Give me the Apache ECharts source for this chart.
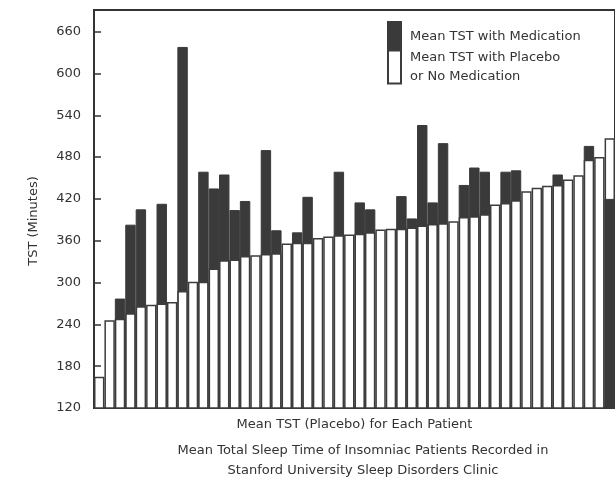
<!DOCTYPE html>
<html>
<head>
<meta charset="utf-8">
<script src="https://cdn.jsdelivr.net/npm/echarts@6/dist/echarts.min.js"></script>
<style>
html,body{margin:0;padding:0;background:#fff;}
#chart{width:615px;height:481px;}
</style>
</head>
<body>
<div id="chart"></div>
<script>
// Patients, sorted by placebo TST
var patients = [];
for (var i = 1; i <= 50; i++) patients.push('P' + i);

// Mean TST with placebo / no medication (minutes)
var placeboTST = [165, 246, 248, 256, 266, 268, 270, 272, 288, 301,
                  301, 320, 332, 333, 338, 339, 341, 342, 356, 357,
                  357, 364, 366, 368, 369, 370, 372, 376, 377, 377,
                  379, 382, 384, 385, 388, 394, 395, 398, 412, 414,
                  418, 431, 436, 439, 440, 448, 454, 476, 480, 507];

// Mean TST with medication (minutes); null where not shown
var medicationTST = [null, null, 277, 383, 405, null, 413, null, 638, null,
                     459, 435, 455, 404, 417, null, 490, 375, null, 372,
                     423, null, null, 459, null, 415, 405, null, null, 424,
                     392, 526, 415, 500, null, 440, 465, 459, null, 459,
                     461, null, null, null, 455, null, null, 496, null, 420];

var yTicks = [120, 180, 240, 300, 360, 420, 480, 540, 600, 660];

var medName = 'Mean TST with Medication';
var plaName = 'Mean TST with Placebo\nor No Medication';

// medication values lower than placebo are drawn in front
var medLow = medicationTST.map(function (m, i) {
  return (m !== null && m < placeboTST[i]) ? m : null;
});

var FONT = 'DejaVu Sans';
var TXT = '#333';

var chart = echarts.init(document.getElementById('chart'), null, {renderer: 'canvas'});
chart.setOption({
  backgroundColor: '#ffffff',
  animation: false,
  title: {
    text: 'Mean Total Sleep Time of Insomniac Patients Recorded in\nStanford University Sleep Disorders Clinic',
    left: 358,
    top: 436,
    textAlign: 'center',
    textStyle: {fontFamily: FONT, fontSize: 13, fontWeight: 'normal', color: TXT, lineHeight: 20}
  },
  legend: [
    {
      orient: 'vertical',
      left: 387,
      top: 21,
      padding: 0,
      itemGap: 0,
      itemWidth: 13,
      itemHeight: 29,
      icon: 'rect',
      data: [medName],
      textStyle: {fontFamily: FONT, fontSize: 13, color: TXT, padding: [3, 0, 0, 4]},
      selectedMode: false
    },
    {
      orient: 'vertical',
      left: 387,
      top: 47,
      padding: 0,
      itemGap: 0,
      itemWidth: 13,
      itemHeight: 33,
      icon: 'rect',
      data: [plaName],
      textStyle: {fontFamily: FONT, fontSize: 13, color: TXT, lineHeight: 19, padding: [2, 0, 0, 4]},
      selectedMode: false
    }
  ],
  grid: {
    left: 94, top: 10, width: 523, height: 398,
    show: true, borderColor: '#333', borderWidth: 2, backgroundColor: 'transparent'
  },
  xAxis: {
    type: 'category',
    data: patients,
    name: 'Mean TST (Placebo) for Each Patient',
    nameLocation: 'middle',
    nameGap: 10,
    nameTextStyle: {fontFamily: FONT, fontSize: 13, color: TXT},
    axisLine: {show: true, lineStyle: {color: '#333', width: 2}},
    axisTick: {show: false},
    axisLabel: {show: false},
    splitLine: {show: false}
  },
  yAxis: {
    type: 'value',
    min: 120,
    max: 691,
    interval: 60,
    name: 'TST (Minutes)',
    nameLocation: 'middle',
    nameGap: 54,
    nameTextStyle: {fontFamily: FONT, fontSize: 13, color: TXT, padding: [0, 24, 0, 0]},
    axisLine: {show: true, lineStyle: {color: '#333', width: 2}},
    axisTick: {show: true, inside: true, length: 7, lineStyle: {color: '#333', width: 1.5}},
    axisLabel: {
      fontFamily: FONT, fontSize: 13, color: TXT, margin: 13,
      showMaxLabel: false,
      formatter: function (v) { return yTicks.indexOf(v) >= 0 ? String(v) : ''; }
    },
    splitLine: {show: false}
  },
  series: [
    {
      name: medName,
      type: 'bar',
      data: medicationTST,
      barCategoryGap: '0%',
      barGap: '-100%',
      z: 2,
      itemStyle: {color: '#3a3a3a', borderColor: '#3a3a3a', borderWidth: 1}
    },
    {
      name: plaName,
      type: 'bar',
      data: placeboTST,
      barCategoryGap: '0%',
      barGap: '-100%',
      z: 3,
      itemStyle: {color: '#ffffff', borderColor: '#3c3c3c', borderWidth: 1.5}
    },
    {
      name: 'medLow',
      type: 'bar',
      data: medLow,
      barCategoryGap: '0%',
      barGap: '-100%',
      z: 4,
      itemStyle: {color: '#3a3a3a', borderColor: '#3a3a3a', borderWidth: 1}
    }
  ]
});
</script>
</body>
</html>
